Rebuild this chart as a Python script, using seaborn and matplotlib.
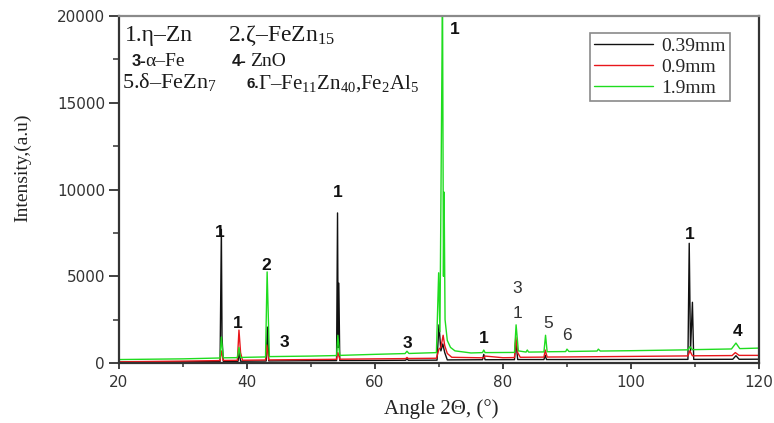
import matplotlib
matplotlib.use("Agg")
import matplotlib.pyplot as plt
from matplotlib.ticker import MultipleLocator
import pandas as pd
import seaborn as sns

# XRD patterns (2-theta in degrees, intensity in a.u.) for three coating thicknesses
theta_039 = [20, 30, 35.8, 36.0, 36.1, 36.3, 38.6, 38.8, 39.0, 43.0, 43.2, 43.4, 50,
             54.0, 54.15, 54.25, 54.35, 54.5, 60, 64.8, 65.0, 65.2, 69.7, 70.0, 70.3,
             70.6, 70.9, 71.3, 76.8, 77.0, 77.2, 81.8, 82.0, 82.3, 86.4, 86.6, 86.8,
             90, 100, 108.9, 109.1, 109.3, 109.6, 109.8, 115.9, 116.4, 116.9, 120]
inten_039 = [40, 70, 85, 7700, 1500, 95, 100, 600, 105, 115, 2070, 120, 135,
             140, 8650, 900, 4600, 145, 150, 160, 260, 160, 165, 2200, 700,
             1100, 600, 180, 190, 500, 190, 195, 1300, 200, 200, 450, 200,
             200, 205, 210, 6900, 700, 3500, 210, 215, 420, 215, 220]

theta_09 = [20, 30, 35.8, 36.0, 36.3, 38.5, 38.75, 39.0, 39.3, 42.9, 43.1, 43.4, 50,
            54.0, 54.2, 54.5, 60, 64.8, 65.0, 65.2, 69.6, 70.0, 70.3, 70.65, 70.9,
            71.3, 72.0, 76.8, 77.0, 77.2, 80, 81.8, 82.0, 82.3, 82.7, 86.4, 86.6,
            86.9, 90, 100, 108.9, 109.2, 109.6, 115.8, 116.3, 116.9, 120]
inten_09 = [70, 110, 140, 700, 150, 155, 1900, 600, 160, 175, 1040, 180, 200,
            215, 600, 220, 240, 255, 320, 260, 275, 800, 900, 1600, 1000,
            550, 330, 300, 300, 400, 305, 315, 1500, 600, 330, 340, 750,
            345, 350, 380, 410, 700, 415, 430, 600, 440, 440]

theta_19 = [20, 30, 35.8, 36.0, 36.3, 38.5, 38.75, 39.0, 40, 42.9, 43.15, 43.5, 50,
            54.0, 54.2, 54.5, 60, 64.7, 65.0, 65.3, 69.6, 69.95, 70.15, 70.55, 70.7,
            70.8, 70.95, 71.3, 71.8, 72.5, 75, 76.8, 77.0, 77.2, 81.8, 82.05, 82.4,
            83.6, 83.8, 84.0, 86.4, 86.65, 86.9, 89.8, 90.0, 90.3, 94.7, 94.9, 95.2,
            100, 108.9, 109.2, 109.6, 115.7, 116.4, 117.0, 120]
inten_19 = [200, 240, 290, 1500, 300, 310, 900, 320, 330, 350, 5250, 370, 400,
            430, 1600, 440, 500, 545, 680, 550, 600, 5200, 1800, 21500, 5000,
            9850, 2500, 1300, 900, 700, 580, 600, 750, 600, 610, 2200, 700,
            630, 750, 630, 640, 1600, 650, 660, 800, 665, 690, 800, 690,
            710, 760, 940, 770, 810, 1150, 830, 860]

samples = ["0.39mm", "0.9mm", "1.9mm"]
sample_colors = ["#111111", "#e8161b", "#1fdc1f"]

# Phase markers placed above the peaks
peak_tags = ["1", "1", "2", "3", "1", "3", "1", "1", "3", "1", "5", "6", "1", "4"]
peak_tag_theta = [35.8, 38.6, 43.0, 45.9, 54.2, 65.0, 72.5, 77.0, 82.2, 82.2, 87.0, 90.0, 109.2, 116.6]
peak_tag_inten = [7550, 2300, 5600, 1200, 9800, 1150, 19200, 1440, 4270, 2880, 2300, 1560, 7380, 1840]
peak_tag_bold = [True, True, True, True, True, True, True, True, False, False, False, False, True, True]

frames = []
for name, th, iv in zip(samples, [theta_039, theta_09, theta_19], [inten_039, inten_09, inten_19]):
    frames.append(pd.DataFrame({"theta": th, "intensity": iv, "sample": name}))
df = pd.concat(frames, ignore_index=True)

sns.set_theme(style="ticks")
plt.rcParams["font.family"] = ["DejaVu Sans"]
plt.rcParams["mathtext.fontset"] = "custom"
plt.rcParams["mathtext.rm"] = "Liberation Serif"
plt.rcParams["mathtext.it"] = "Liberation Serif:italic"
plt.rcParams["mathtext.bf"] = "Liberation Serif:bold"
plt.rcParams["mathtext.default"] = "rm"

fig = plt.figure(figsize=(7.74, 4.23), dpi=100)
fig.patch.set_facecolor("white")
ax = fig.add_axes([0.1537, 0.1418, 0.8269, 0.8204])
ax.set_facecolor("white")

sns.lineplot(data=df, x="theta", y="intensity", hue="sample", hue_order=samples,
             palette=dict(zip(samples, sample_colors)), linewidth=1.0,
             errorbar=None, ax=ax)

ax.set_xlim(20, 120)
ax.set_ylim(0, 20000)
ax.xaxis.set_major_locator(MultipleLocator(20))
ax.xaxis.set_minor_locator(MultipleLocator(10))
ax.yaxis.set_major_locator(MultipleLocator(5000))
ax.yaxis.set_minor_locator(MultipleLocator(2500))
ax.tick_params(axis="both", which="major", direction="out", width=1.3,
               color="#333333", labelsize=11, labelcolor="#333333")
ax.tick_params(axis="x", which="major", length=4.5, pad=4)
ax.tick_params(axis="y", which="major", length=7, pad=3)
ax.tick_params(axis="x", which="minor", direction="out", length=3, width=1.1, color="#333333")
ax.tick_params(axis="y", which="minor", direction="out", length=4.5, width=1.1, color="#333333")
ax.tick_params(top=False, right=False)

for side in ["left", "bottom", "right"]:
    ax.spines[side].set_color("#333333")
    ax.spines[side].set_linewidth(1.6)
ax.spines["top"].set_color("#8a8a8a")
ax.spines["top"].set_linewidth(1.6)

ax.set_xlabel("Angle 2\u0398, (\u00b0)", family="Liberation Serif", fontsize=15,
              color="#222222")
ax.set_ylabel("Intensity,(a.u)", family="Liberation Serif", fontsize=14,
              color="#222222")
ax.yaxis.set_label_coords(-0.137, 0.562)
ax.xaxis.set_label_coords(0.503, -0.105)

# Peak phase markers
for tag, tx, ty, bold in zip(peak_tags, peak_tag_theta, peak_tag_inten, peak_tag_bold):
    ax.text(tx, ty, tag, ha="center", va="center", family="Liberation Sans",
            fontsize=12.5, fontweight="bold" if bold else "normal",
            color="#111111" if bold else "#333333")

# Phase key in the upper-left corner
serif = dict(family="Liberation Serif", color="#1a1a1a", transform=ax.transAxes,
             ha="left", va="baseline")
sans_b = dict(family="Liberation Sans", fontweight="bold", color="#1a1a1a",
              transform=ax.transAxes, ha="left", va="baseline")
ax.text(0.009, 0.929, "1.\u03b7\u2013Zn", fontsize=17, **serif)
ax.text(0.170, 0.929, "2.\u03b6\u2013FeZn$_{15}$", fontsize=17, **serif)
ax.text(0.020, 0.857, "3-", fontsize=12, **sans_b)
ax.text(0.041, 0.857, "\u03b1\u2013Fe", fontsize=14, **serif)
ax.text(0.177, 0.857, "4-", fontsize=12, **sans_b)
ax.text(0.205, 0.857, "ZnO", fontsize=14, **serif)
ax.text(0.005, 0.792, "5.\u03b4\u2013FeZn$_{7}$", fontsize=16, **serif)
ax.text(0.199, 0.792, "6.", fontsize=11, **sans_b)
ax.text(0.217, 0.792, "\u0393\u2013Fe$_{11}$Zn$_{40}$,Fe$_{2}$Al$_{5}$", fontsize=15, **serif)

handles, labels = ax.get_legend_handles_labels()
leg = ax.legend(handles, labels, loc="upper left", bbox_to_anchor=(0.736, 0.951),
                borderaxespad=0, frameon=True, fancybox=False, framealpha=1,
                edgecolor="#8a8a8a", prop={"family": "Liberation Serif", "size": 14},
                handlelength=3.0, handletextpad=0.45, labelspacing=0.17, borderpad=0.22)
leg.get_frame().set_linewidth(1.2)
for line in leg.get_lines():
    line.set_linewidth(1.0)

fig.savefig("out.png", dpi=100, facecolor="white")
